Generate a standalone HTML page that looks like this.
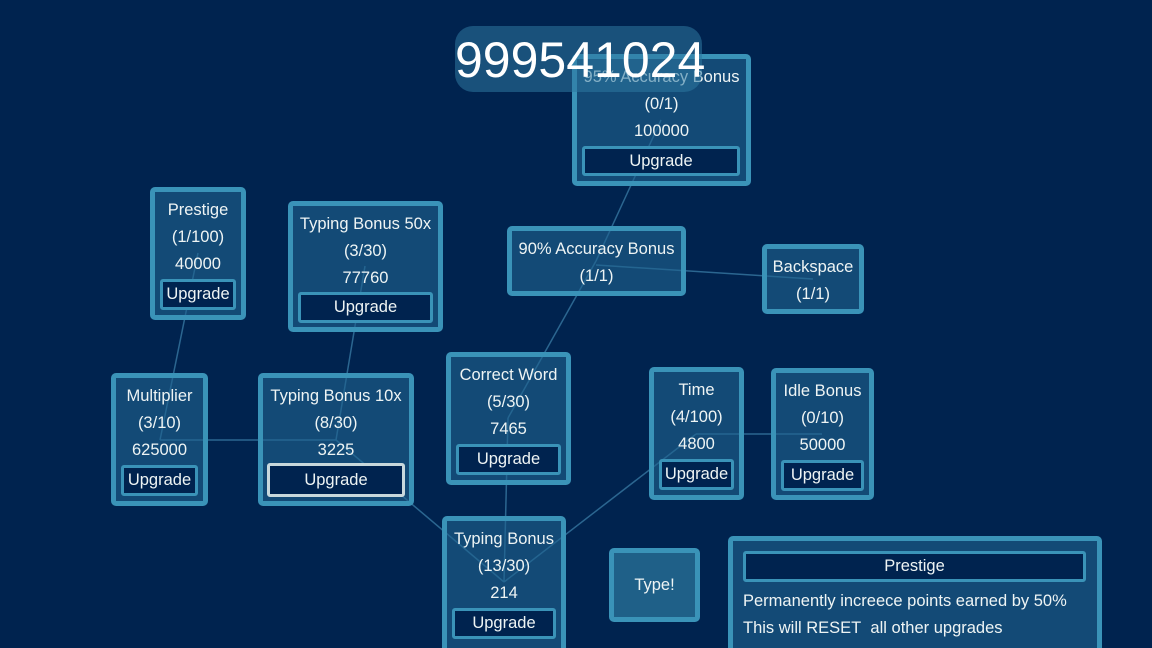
<!DOCTYPE html>
<html><head><meta charset="utf-8"><style>
html,body{margin:0;width:1152px;height:648px;overflow:hidden}
body{background:#00234f;position:relative;font-family:"Liberation Sans","DejaVu Sans",sans-serif;color:#eef4f4}
.p{position:absolute;box-sizing:border-box;border:5px solid #3a93b8;border-radius:5px;background:rgba(32,100,145,0.6);text-align:center;font-size:16.5px;line-height:27px;padding-top:5px;white-space:nowrap}
.b{position:absolute;box-sizing:border-box;border:3px solid #3a93b8;border-radius:3px;background:#00234f;text-align:center;font-size:16.5px;color:#eef4f4;white-space:nowrap}
svg{position:absolute;left:0;top:0}
</style></head><body>
<svg width="1152" height="648"><g stroke="#2b6690" stroke-width="1.5" fill="none">
<line x1="661" y1="120" x2="596" y2="261"/>
<line x1="596" y1="265" x2="813" y2="279"/>
<line x1="596" y1="261" x2="508" y2="418"/>
<line x1="198" y1="253" x2="160" y2="440"/>
<line x1="365" y1="266" x2="336" y2="440"/>
<line x1="160" y1="440" x2="336" y2="440"/>
<line x1="336" y1="440" x2="504" y2="582"/>
<line x1="508" y1="418" x2="504" y2="582"/>
<line x1="696" y1="434" x2="504" y2="582"/>
<line x1="696" y1="434" x2="822" y2="434"/>
</g></svg>

<div class="p" style="left:572px;top:54px;width:179px;height:132px">95% Accuracy Bonus<br>(0/1)<br>100000</div>
<div class="b" style="left:582px;top:146px;width:158px;height:30px;line-height:24px">Upgrade</div>

<div class="p" style="left:150px;top:187px;width:96px;height:133px">Prestige<br>(1/100)<br>40000</div>
<div class="b" style="left:160px;top:279px;width:76px;height:31px;line-height:25px">Upgrade</div>

<div class="p" style="left:288px;top:201px;width:155px;height:131px">Typing Bonus 50x<br>(3/30)<br>77760</div>
<div class="b" style="left:298px;top:292px;width:135px;height:31px;line-height:25px">Upgrade</div>

<div class="p" style="left:507px;top:226px;width:179px;height:70px">90% Accuracy Bonus<br>(1/1)</div>
<div class="p" style="left:762px;top:244px;width:102px;height:70px">Backspace<br>(1/1)</div>

<div class="p" style="left:111px;top:373px;width:97px;height:133px">Multiplier<br>(3/10)<br>625000</div>
<div class="b" style="left:121px;top:465px;width:77px;height:31px;line-height:25px">Upgrade</div>

<div class="p" style="left:258px;top:373px;width:156px;height:133px">Typing Bonus 10x<br>(8/30)<br>3225</div>
<div class="b" style="left:267px;top:463px;width:138px;height:34px;line-height:28px;border-color:#c8d8dc">Upgrade</div>

<div class="p" style="left:446px;top:352px;width:125px;height:133px">Correct Word<br>(5/30)<br>7465</div>
<div class="b" style="left:456px;top:444px;width:105px;height:31px;line-height:25px">Upgrade</div>

<div class="p" style="left:649px;top:367px;width:95px;height:133px">Time<br>(4/100)<br>4800</div>
<div class="b" style="left:659px;top:459px;width:75px;height:31px;line-height:25px">Upgrade</div>

<div class="p" style="left:771px;top:368px;width:103px;height:132px">Idle Bonus<br>(0/10)<br>50000</div>
<div class="b" style="left:781px;top:460px;width:83px;height:31px;line-height:25px">Upgrade</div>

<div class="p" style="left:442px;top:516px;width:124px;height:140px">Typing Bonus<br>(13/30)<br>214</div>
<div class="b" style="left:452px;top:608px;width:104px;height:31px;line-height:25px">Upgrade</div>

<div class="p" style="left:609px;top:548px;width:91px;height:74px;line-height:64px;padding-top:0;background:#1f6088">Type!</div>

<div class="p" style="left:728px;top:536px;width:374px;height:130px;text-align:left;padding-left:10px;padding-top:47px">Permanently increece points earned by 50%<br>This will RESET&nbsp; all other upgrades</div>
<div class="b" style="left:743px;top:551px;width:343px;height:31px;line-height:25px">Prestige</div>

<div style="position:absolute;left:455px;top:26px;width:247px;height:66px;border-radius:18px;background:rgba(45,120,160,0.55);font-size:50px;line-height:68px;text-align:center;color:#fff">999541024</div>
</body></html>
